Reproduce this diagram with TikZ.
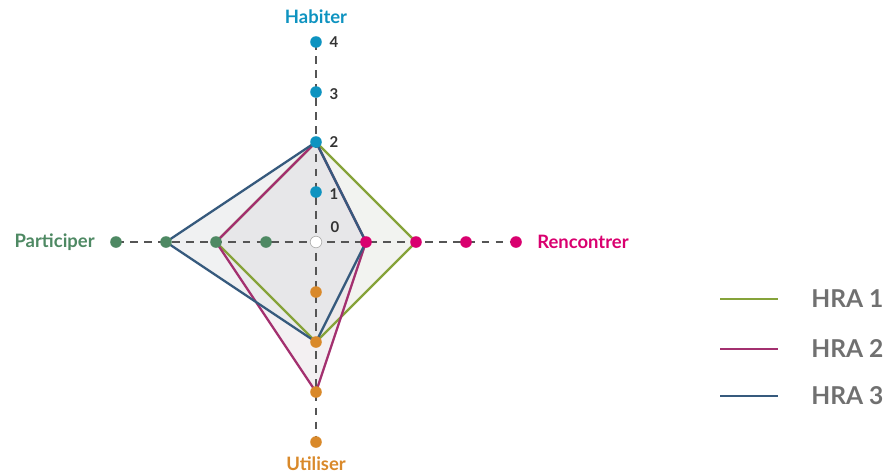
\documentclass[tikz,border=0pt]{standalone}
\usepackage{fontspec}
\setmainfont{Lato}
\usetikzlibrary{positioning}
\usetikzlibrary{calc}

\definecolor{habcol}{HTML}{0E93C0}
\definecolor{rencol}{HTML}{D9006F}
\definecolor{parcol}{HTML}{4E8963}
\definecolor{utilcol}{HTML}{D9892A}
\definecolor{hraone}{HTML}{86A33A}
\definecolor{hratwo}{HTML}{A3306F}
\definecolor{hrathree}{HTML}{365A7D}
\definecolor{axiscol}{HTML}{555555}
\definecolor{legtext}{HTML}{707070}

\begin{document}
\begin{tikzpicture}[
      dot/.style={
         circle,
         inner sep=0pt,
         minimum size=6.6pt},
      axislabel/.style={font=\bfseries\fontsize{10.5}{12}\selectfont, inner sep=0pt},
      tick/.style={font=\bfseries\fontsize{8.5}{10}\selectfont, text=black!80, inner sep=0pt},
      axisline/.style={axiscol, line width=0.8pt, dash pattern=on 4.5pt off 3.5pt},
      hraline/.style={line width=1.3pt, line join=round},
      legendtext/.style={font=\bfseries\fontsize{14}{16}\selectfont, text=legtext, anchor=west, inner sep=0pt}
      ]
      \useasboundingbox (-6.32,-4.62) rectangle (11.46,4.84);

      % points on the axes
      \coordinate (c) at (0,0);
      \foreach \i in {1,...,4} {
        \coordinate (h\i) at (0,\i);
        \coordinate (r\i) at (\i,0);
        \coordinate (u\i) at (0,-\i);
        \coordinate (p\i) at (-\i,0);
      }

      % filled areas
      \fill[hraone!30!gray!18, fill opacity=0.55] (h2) -- (r2) -- (u2) -- (p2) -- cycle;
      \fill[hratwo!30!gray!18, fill opacity=0.55] (h2) -- (r1) -- (u3) -- (p2) -- cycle;
      \fill[hrathree!30!gray!18, fill opacity=0.55] (h2) -- (r1) -- (u2) -- (p3) -- cycle;

      % axes
      \draw[axisline] (p4) -- (r4);
      \draw[axisline] (h4) -- (u4);

      % outlines
      \draw[hraline, hraone] (h2) -- (r2) -- (u2) -- (p2) -- cycle;
      \draw[hraline, hratwo] (h2) -- (r1) -- (u3) -- (p2) -- cycle;
      \draw[hraline, hrathree] (h2) -- (r1) -- (u2) -- (p3) -- cycle;

      % dots
      \foreach \i in {1,...,4} {
        \node[dot, fill=habcol] (hd\i) at (h\i) {};
        \node[dot, fill=rencol] (rd\i) at (r\i) {};
        \node[dot, fill=utilcol] (ud\i) at (u\i) {};
        \node[dot, fill=parcol] (pd\i) at (p\i) {};
      }
      \node[dot, fill=white, draw=gray!60, line width=0.4pt] (cd) at (c) {};

      % ticks
      \node[tick, right=4pt of hd4] (t4) {4};
      \node[tick, right=4pt of hd3, yshift=-1pt] (t3) {3};
      \node[tick, right=4pt of hd2] (t2) {2};
      \node[tick, right=4pt of hd1, yshift=-1pt] (t1) {1};
      \node[tick] (t0) at (0.38,0.29) {0};

      % axis labels
      \node[axislabel, text=habcol] (lhab) at (0,4.5) {Habiter};
      \node[axislabel, text=utilcol] (lutil) at (0,-4.44) {Utiliser};
      \node[axislabel, text=parcol, anchor=east] (lpar) at (-4.42,0) {Participer};
      \node[axislabel, text=rencol, anchor=west] (lren) at (4.42,0) {Rencontrer};

      % legend
      \foreach \n/\col/\y/\txt in {l1/hraone/-1.14/HRA 1, l2/hratwo/-2.14/HRA 2, l3/hrathree/-3.08/HRA 3} {
        \coordinate (\n a) at (8.08,\y);
        \coordinate (\n b) at (9.24,\y);
        \draw[hraline, \col] (\n a) -- (\n b);
        \node[legendtext] (\n t) at (9.9,\y) {\txt};
      }
\end{tikzpicture}
\end{document}
